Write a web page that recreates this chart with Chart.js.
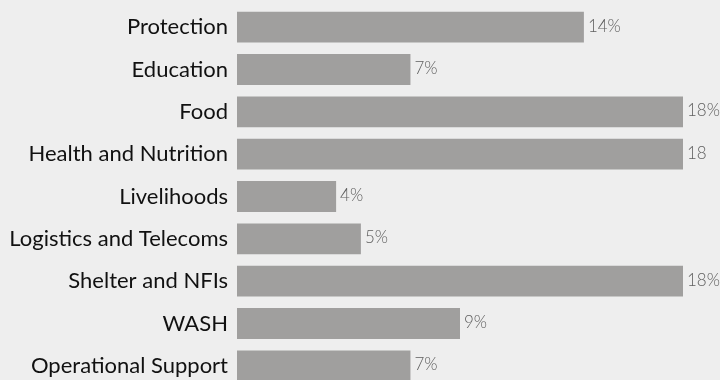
<!DOCTYPE html>
<html>
<head>
<meta charset="utf-8">
<script src="https://cdn.jsdelivr.net/npm/chart.js@4/dist/chart.umd.min.js"></script>
<style>
  html, body { margin: 0; padding: 0; background: #eeeeee; overflow: hidden; }
  #wrap { width: 720px; height: 390px; }
</style>
</head>
<body>
<div id="wrap"><canvas id="sectorChart"></canvas></div>
<script>
const categories = ["Protection", "Education", "Food", "Health and Nutrition", "Livelihoods",
  "Logistics and Telecoms", "Shelter and NFIs", "WASH", "Operational Support"];
const shares = [14, 7, 18, 18, 4, 5, 18, 9, 7];
const valueLabels = ["14%", "7%", "18%", "18", "4%", "5%", "18%", "9%", "7%"];

// draws the value text just right of each bar
const valueLabelPlugin = {
  id: 'valueLabels',
  afterDatasetsDraw(chart) {
    const ctx = chart.ctx;
    const meta = chart.getDatasetMeta(0);
    ctx.save();
    ctx.font = '300 17px Lato, "Open Sans", sans-serif';
    ctx.fillStyle = '#606060';
    ctx.textAlign = 'left';
    ctx.textBaseline = 'middle';
    meta.data.forEach((bar, i) => {
      ctx.fillText(valueLabels[i], bar.x + 4, bar.y - 1);
    });
    ctx.restore();
  }
};

new Chart(document.getElementById("sectorChart"), {
  type: 'bar',
  data: {
    labels: categories,
    datasets: [{
      data: shares,
      backgroundColor: '#a09f9e',
      borderWidth: 0,
      categoryPercentage: 1,
      barPercentage: 0.73
    }]
  },
  options: {
    indexAxis: 'y',
    responsive: true,
    maintainAspectRatio: false,
    animation: false,
    layout: { padding: { top: 6, bottom: 3, left: 0, right: 37 } },
    scales: {
      x: { min: 0, max: 18, display: false },
      y: {
        grid: { display: false, drawTicks: false },
        border: { display: false },
        afterFit(scale) {
          scale.width = 237;
          scale.paddingTop = 0;
          scale.paddingBottom = 0;
        },
        ticks: {
          color: '#111111',
          padding: 9,
          font: { family: 'Lato, sans-serif', size: 22 }
        }
      }
    },
    plugins: {
      legend: { display: false },
      tooltip: { enabled: false }
    }
  },
  plugins: [valueLabelPlugin]
});
</script>
</body>
</html>
